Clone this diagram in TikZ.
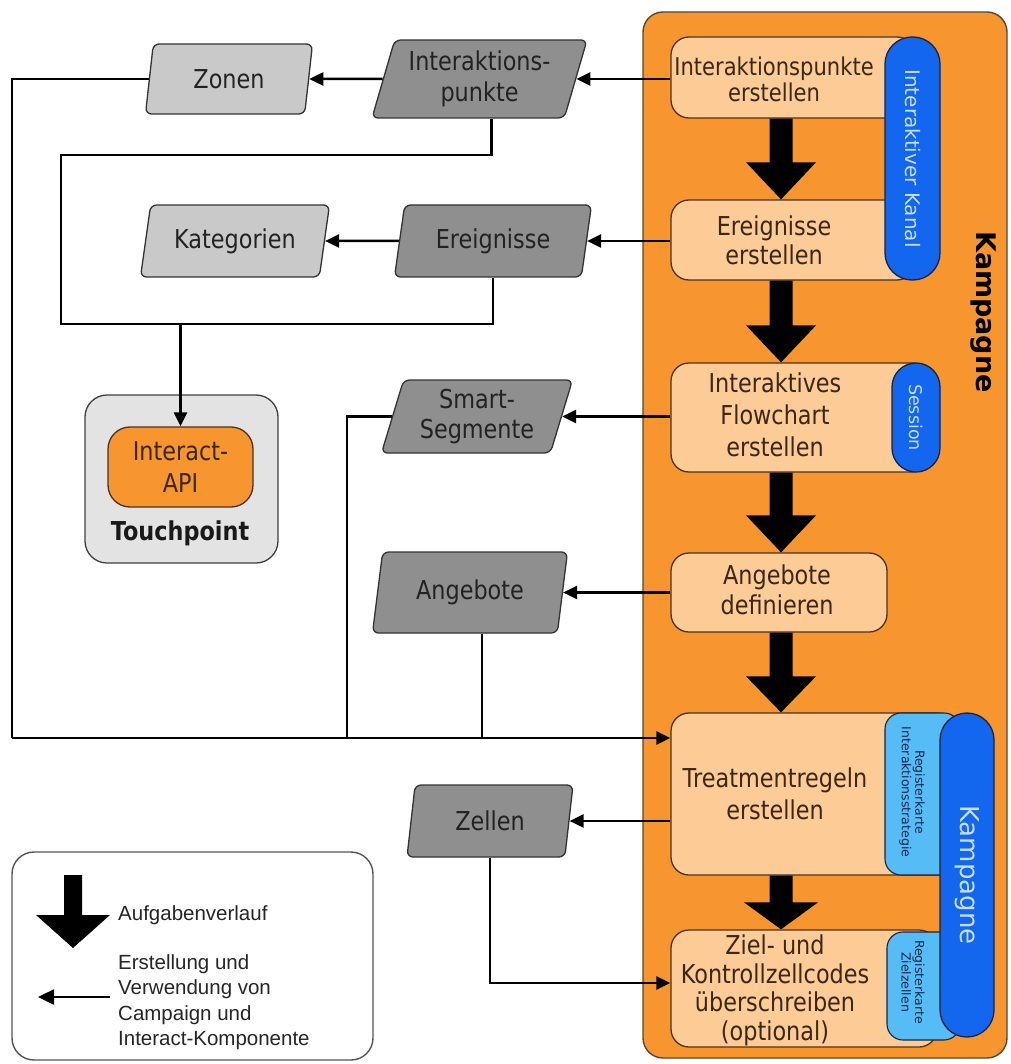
\documentclass[tikz,border=0pt]{standalone}
\usepackage{fontspec}
\setmainfont{DejaVu Sans}
\newfontfamily\bxfont{DejaVu Sans}[FakeStretch=0.86]
\newfontfamily\lgfont{Liberation Sans}
\usetikzlibrary{shapes.geometric,arrows.meta,calc}
\definecolor{korange}{HTML}{F7962F}
\definecolor{kline}{HTML}{5A4632}
\definecolor{peach}{HTML}{FCCB96}
\definecolor{boxline}{HTML}{4A3320}
\definecolor{brown}{HTML}{3A2816}
\definecolor{kblue}{HTML}{1366EE}
\definecolor{pillline}{HTML}{1A2240}
\definecolor{pilltext}{HTML}{C9DEFF}
\definecolor{lblue}{HTML}{56BCF5}
\definecolor{tabtextc}{HTML}{14284B}
\definecolor{dgrey}{HTML}{8F8F8F}
\definecolor{lgrey}{HTML}{C9C9C9}
\definecolor{paraline}{HTML}{333333}
\definecolor{paratext}{HTML}{222222}
\definecolor{tpgrey}{HTML}{E3E3E3}
\definecolor{legline}{HTML}{555555}
\newcommand\bigarrow[6]{%
  \fill[black] let \p1=#1, \p2=#2, \p3=(#3,0) in
   ({\x3-#5},\y1) -- ({\x3-#5},{\y2+#4}) -- ({\x3-#6},{\y2+#4}) -- (\x3,\y2)
   -- ({\x3+#6},{\y2+#4}) -- ({\x3+#5},{\y2+#4}) -- ({\x3+#5},\y1) -- cycle;}
\begin{document}
\begin{tikzpicture}[x=1pt,y=-1pt,
  conn/.style={line width=2.5,draw=black},
  >={Triangle[length=14pt,width=13pt]},
  taskbox/.style={draw=boxline,line width=1.3,fill=peach,rounded corners=18,inner sep=0pt},
  tasktext/.style={text=brown,align=center,inner sep=0pt},
  para/.style={trapezium,trapezium left angle=68,trapezium right angle=112,
    trapezium stretches body,draw=paraline,line width=1.3,rounded corners=6,
    text=paratext,align=center,inner sep=0pt},
  dpara/.style={para,fill=dgrey},
  lpara/.style={para,fill=lgrey},
  pill/.style={draw=pillline,line width=1.3,fill=kblue,text=pilltext,rotate=-90,inner sep=0pt},
  tabbox/.style={draw=pillline,line width=1.1,fill=lblue,rounded corners=16,inner sep=0pt},
  tabtext/.style={text=tabtextc,align=center,rotate=-90,inner sep=0pt,
    font=\fontsize{12.5}{13.5}\selectfont},
  legtext/.style={font=\lgfont\fontsize{20.5}{25.5}\selectfont,align=left,anchor=west,inner sep=0pt,text=black!85},
]
\useasboundingbox (0,0) rectangle (1010,1064);

% Campaign area
\node[draw=kline,line width=1.4,fill=korange,rounded corners=20,minimum width=364,minimum height=1046,inner sep=0pt] (kbg) at (825,535) {};
\node[font=\bfseries\fontsize{27}{30}\selectfont,rotate=-90,inner sep=0pt] (ktitle) at (983,312) {Kampagne};

% task boxes
\node[taskbox,minimum width=244,minimum height=81] (t1box) at (793,77.5) {};
\node[taskbox,minimum width=244,minimum height=80] (t2box) at (793,240) {};
\node[taskbox,minimum width=259,minimum height=109] (t3box) at (800.5,417.5) {};
\node[taskbox,minimum width=216,minimum height=79] (t4box) at (779,592.5) {};
\node[taskbox,minimum width=284,minimum height=162] (t5box) at (813,794) {};
\node[taskbox,minimum width=266,minimum height=117] (t6box) at (804,988.5) {};

% tabs and pills
\node[tabbox,minimum width=75,minimum height=162] (tab1) at (922.5,794) {};
\node[tabbox,minimum width=73,minimum height=108] (tab2) at (923.5,986) {};
\node[pill,rounded corners=27,minimum width=243,minimum height=55,font=\fontsize{20}{24}\selectfont] (kanal) at (912.5,158.5) {Interaktiver Kanal};
\node[pill,rounded corners=24,minimum width=109,minimum height=48,font=\fontsize{17.5}{20}\selectfont] (session) at (916,417.5) {Session};
\node[pill,rounded corners=27,minimum width=324,minimum height=54,font=\fontsize{26}{30}\selectfont] (kpill) at (967,875) {Kampagne};
\node[tabtext] (tab1t) at (912,792) {Registerkarte\\Interaktionsstrategie};
\node[tabtext] (tab2t) at (913,982) {Registerkarte\\Zielzellen};

% task texts
\node[tasktext,font=\bxfont\fontsize{24.5}{26}\selectfont] (t1) at (774,79) {Interaktionspunkte\\erstellen};
\node[tasktext,font=\bxfont\fontsize{26}{29}\selectfont] (t2) at (774,240) {Ereignisse\\erstellen};
\node[tasktext,font=\bxfont\fontsize{26}{32}\selectfont] (t3) at (775,415) {Interaktives\\Flowchart\\erstellen};
\node[tasktext,font=\bxfont\fontsize{26}{30}\selectfont] (t4) at (777,590) {Angebote\\definieren};
\node[tasktext,font=\bxfont\fontsize{26}{32}\selectfont] (t5) at (775,794) {Treatmentregeln\\erstellen};
\node[tasktext,font=\bxfont\fontsize{26}{28.5}\selectfont] (t6) at (775,990.5) {Ziel- und\\Kontrollzellcodes\\überschreiben\\(optional)};

% task flow arrows
\bigarrow{(t1box.south)}{(t2box.north)}{781}{37pt}{11.5pt}{35pt}
\bigarrow{(t2box.south)}{(t3box.north)}{781}{37pt}{11.5pt}{35pt}
\bigarrow{(t3box.south)}{(t4box.north)}{781}{37pt}{11.5pt}{35pt}
\bigarrow{(t4box.south)}{(t5box.north)}{781}{36pt}{11.5pt}{35pt}
\bigarrow{(t5box.south)}{(t6box.north)}{781}{27pt}{11.5pt}{37pt}

% components
\node[dpara,minimum width=215,minimum height=78,font=\bxfont\fontsize{26}{31}\selectfont] (ip) at (479.5,79) {Interaktions-\\punkte};
\node[lpara,minimum width=167,minimum height=70,font=\bxfont\fontsize{26}{30}\selectfont] (zonen) at (229,79) {Zonen};
\node[dpara,minimum width=197,minimum height=72,font=\bxfont\fontsize{26}{30}\selectfont] (ereig) at (493,241) {Ereignisse};
\node[lpara,minimum width=189,minimum height=72,font=\bxfont\fontsize{26}{30}\selectfont] (kat) at (235,241) {Kategorien};
\node[dpara,minimum width=191,minimum height=73,font=\bxfont\fontsize{26}{30}\selectfont] (smart) at (477,416.5) {Smart-\\Segmente};
\node[dpara,minimum width=195,minimum height=81,font=\bxfont\fontsize{26}{30}\selectfont] (angeb) at (470,592.5) {Angebote};
\node[dpara,minimum width=166,minimum height=72,font=\bxfont\fontsize{26}{30}\selectfont] (zellen) at (490,821) {Zellen};

% touchpoint
\node[draw=black!75,line width=1.3,fill=tpgrey,rounded corners=22,minimum width=193,minimum height=168,inner sep=0pt] (tp) at (181.5,479) {};
\node[draw=boxline,line width=1.3,fill=korange,rounded corners=22,minimum width=145,minimum height=80,inner sep=0pt,align=center,text=brown,font=\bxfont\fontsize{26}{32}\selectfont] (api) at (180.5,467) {Interact-\\API};
\node[inner sep=0pt,font=\bxfont\bfseries\fontsize{26}{28}\selectfont,text=black!90] (tplabel) at (180,533) {Touchpoint};

% connectors
\coordinate (busL) at (12,738);
\coordinate (j1) at (61,155);
\coordinate (j2) at (61,324);
\coordinate (b2) at (347,738);
\draw[conn,->] (ip.east -| t1box.west) -- (ip.east);
\draw[conn,->] (ip.west) -- (zonen.east);
\draw[conn,->] (ereig.east -| t2box.west) -- (ereig.east);
\draw[conn,->] (ereig.west) -- (kat.east);
\draw[conn,->] (smart.east -| t3box.west) -- (smart.east);
\draw[conn,->] (angeb.east -| t4box.west) -- (angeb.east);
\draw[conn,->] (zellen.east -| t5box.west) -- (zellen.east);
\draw[conn] (zonen.west) -| (busL);
\draw[conn,->] (busL) -- (busL -| t5box.west);
\draw[conn] ([xshift=12pt]ip.south) |- (j1) -- (j2) -- (j2 -| ereig.south) -- (ereig.south);
\draw[conn,->] (j2 -| api.north) -- (api.north);
\draw[conn] (smart.west) -| (b2);
\draw[conn] ([xshift=12pt]angeb.south) -- ([xshift=12pt]angeb.south |- busL);
\draw[conn,->] (zellen.south) |- ([yshift=5.5pt]t6box.west);

% legend
\node[draw=legline,line width=1.4,fill=white,rounded corners=22,minimum width=361,minimum height=208,inner sep=0pt] (legend) at (192.5,956) {};
\coordinate (la1) at (73,875);
\coordinate (la2) at (73,948);
\bigarrow{(la1)}{(la2)}{73}{33pt}{9pt}{37pt}
\coordinate (ls1) at (110,997);
\coordinate (ls2) at (38,997);
\draw[conn,-{Triangle[length=16pt,width=15pt]}] (ls1) -- (ls2);
\node[legtext] (leg1) at (118,915) {Aufgabenverlauf};
\node[legtext] (leg2) at (118,1002) {Erstellung und\\Verwendung von\\Campaign und\\Interact-Komponente};
\end{tikzpicture}
\end{document}
